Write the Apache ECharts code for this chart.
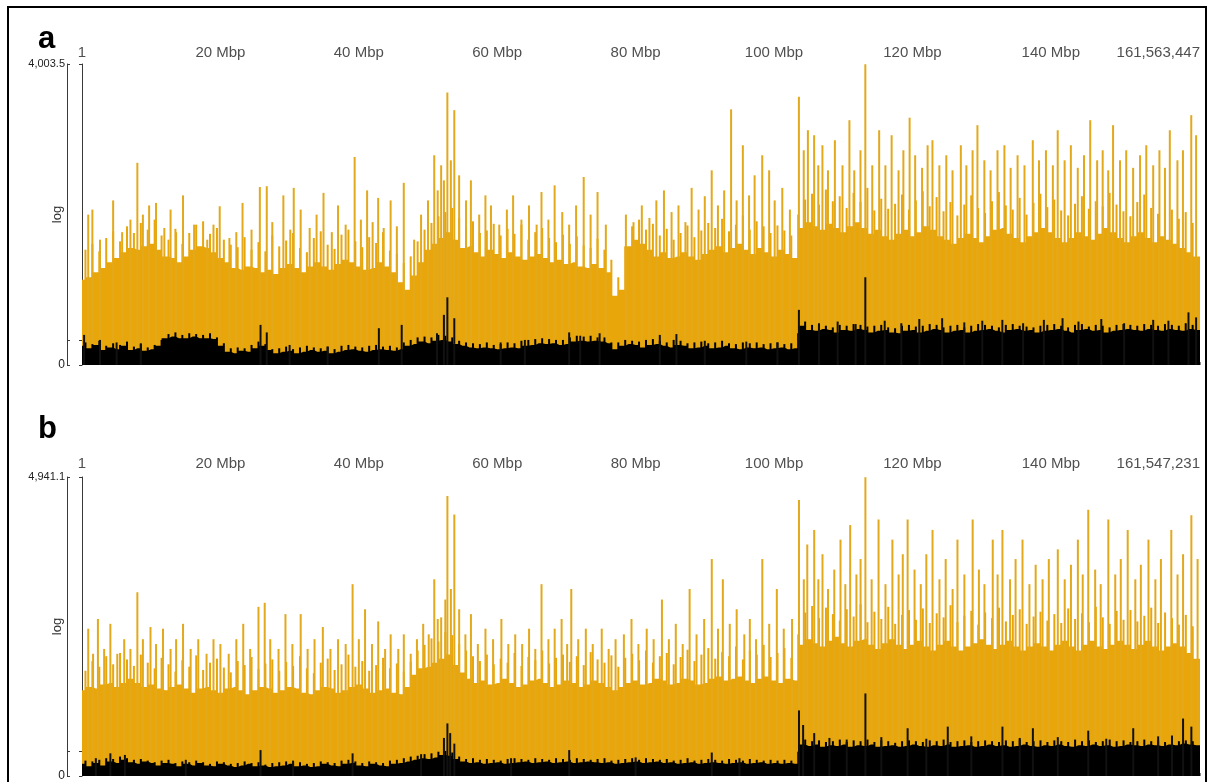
<!DOCTYPE html>
<html>
<head>
<meta charset="utf-8">
<script src="https://cdn.jsdelivr.net/npm/echarts@6/dist/echarts.min.js"></script>
<style>
html,body{margin:0;padding:0;background:#fff}
#chart{width:1210px;height:782px}
</style>
</head>
<body>
<div id="chart"></div>
<script>
// Chromosome lengths (bp) and the top of each depth scale
const chromLenA = 161563447;
const chromLenB = 161547231;
const maxDepthA = 4003.5;
const maxDepthB = 4941.1;
const depthMarkLog = Math.log10(2);   // tick at depth 1 on a log10(depth+1) scale
const xTickMbp = [0, 20, 40, 60, 80, 100, 120, 140];

// Coverage in log10(depth+1), one value per 1 Mbp bin (bins 0..161)
const aOrangeBody = [1.02,1.05,1.11,1.16,1.23,1.28,1.35,1.40,1.38,1.42,
  1.45,1.38,1.30,1.28,1.23,1.30,1.38,1.42,1.40,1.35,
  1.28,1.23,1.16,1.14,1.18,1.16,1.11,1.14,1.09,1.16,
  1.21,1.16,1.11,1.18,1.23,1.18,1.14,1.21,1.26,1.23,
  1.18,1.14,1.16,1.23,1.18,1.11,0.99,0.90,1.07,1.23,
  1.38,1.45,1.52,1.59,1.50,1.40,1.42,1.35,1.30,1.38,
  1.33,1.28,1.35,1.30,1.26,1.30,1.33,1.28,1.23,1.26,
  1.21,1.23,1.18,1.16,1.21,1.16,1.11,0.83,0.90,1.42,
  1.50,1.45,1.38,1.30,1.35,1.28,1.30,1.35,1.30,1.26,
  1.33,1.38,1.42,1.35,1.40,1.45,1.38,1.33,1.40,1.35,
  1.30,1.38,1.33,1.28,1.64,1.71,1.66,1.62,1.69,1.64,
  1.59,1.66,1.71,1.64,1.57,1.62,1.54,1.50,1.57,1.62,
  1.54,1.59,1.66,1.62,1.54,1.50,1.45,1.52,1.57,1.52,
  1.47,1.54,1.62,1.64,1.57,1.52,1.47,1.54,1.59,1.64,
  1.59,1.52,1.47,1.52,1.59,1.54,1.50,1.57,1.64,1.59,
  1.52,1.47,1.54,1.59,1.52,1.47,1.54,1.50,1.45,1.40,
  1.35,1.30];

const aBlackBody = [0.23,0.20,0.24,0.18,0.21,0.19,0.23,0.18,0.20,0.17,
  0.19,0.23,0.32,0.34,0.32,0.32,0.34,0.32,0.32,0.31,
  0.23,0.16,0.14,0.17,0.16,0.20,0.23,0.18,0.14,0.16,
  0.17,0.14,0.16,0.18,0.16,0.17,0.14,0.16,0.18,0.19,
  0.17,0.16,0.18,0.19,0.18,0.17,0.19,0.23,0.25,0.28,
  0.26,0.29,0.30,0.28,0.25,0.23,0.21,0.20,0.21,0.20,
  0.19,0.20,0.21,0.20,0.23,0.24,0.26,0.25,0.26,0.24,
  0.25,0.28,0.29,0.28,0.29,0.28,0.26,0.19,0.23,0.25,
  0.24,0.21,0.24,0.25,0.23,0.21,0.24,0.23,0.20,0.21,
  0.23,0.20,0.21,0.23,0.20,0.19,0.21,0.20,0.21,0.19,
  0.20,0.21,0.19,0.20,0.47,0.42,0.41,0.43,0.42,0.39,
  0.42,0.41,0.43,0.42,0.39,0.41,0.42,0.39,0.38,0.41,
  0.42,0.39,0.41,0.43,0.42,0.39,0.41,0.42,0.39,0.41,
  0.42,0.43,0.41,0.39,0.42,0.43,0.41,0.42,0.39,0.41,
  0.42,0.43,0.41,0.39,0.42,0.43,0.41,0.42,0.39,0.41,
  0.42,0.43,0.42,0.41,0.43,0.42,0.41,0.43,0.42,0.41,
  0.43,0.42];

const bOrangeBody = [1.06,1.10,1.08,1.13,1.15,1.10,1.15,1.20,1.15,1.10,
  1.13,1.08,1.06,1.10,1.13,1.08,1.03,1.08,1.10,1.06,
  1.03,1.08,1.10,1.06,1.01,1.06,1.10,1.08,1.03,1.06,
  1.10,1.08,1.03,1.01,1.06,1.10,1.08,1.03,1.06,1.10,
  1.13,1.08,1.03,1.06,1.08,1.03,1.01,1.10,1.25,1.33,
  1.35,1.40,1.45,1.50,1.37,1.28,1.20,1.15,1.18,1.13,
  1.15,1.20,1.15,1.10,1.13,1.18,1.20,1.15,1.10,1.13,
  1.18,1.15,1.10,1.13,1.18,1.15,1.10,1.06,1.10,1.15,
  1.18,1.13,1.15,1.20,1.18,1.13,1.15,1.20,1.18,1.13,
  1.15,1.20,1.23,1.18,1.20,1.23,1.18,1.15,1.20,1.23,
  1.18,1.15,1.20,1.18,1.62,1.69,1.64,1.60,1.67,1.72,
  1.64,1.60,1.67,1.69,1.62,1.57,1.64,1.69,1.62,1.57,
  1.62,1.67,1.60,1.55,1.62,1.67,1.60,1.55,1.60,1.64,
  1.69,1.62,1.57,1.62,1.67,1.60,1.55,1.60,1.64,1.60,
  1.55,1.62,1.67,1.60,1.55,1.62,1.67,1.60,1.57,1.62,
  1.67,1.62,1.57,1.62,1.67,1.60,1.55,1.60,1.64,1.60,
  1.52,1.45];

const bBlackBody = [0.15,0.12,0.16,0.13,0.18,0.16,0.20,0.17,0.15,0.18,
  0.16,0.13,0.16,0.15,0.12,0.15,0.13,0.16,0.13,0.12,
  0.15,0.13,0.11,0.13,0.15,0.12,0.13,0.11,0.12,0.13,
  0.15,0.12,0.13,0.11,0.12,0.15,0.13,0.12,0.15,0.16,
  0.13,0.12,0.15,0.13,0.12,0.15,0.16,0.18,0.20,0.22,
  0.21,0.23,0.26,0.25,0.21,0.18,0.16,0.17,0.15,0.16,
  0.17,0.15,0.16,0.17,0.18,0.16,0.17,0.18,0.16,0.17,
  0.18,0.16,0.17,0.18,0.17,0.16,0.17,0.15,0.16,0.17,
  0.18,0.16,0.17,0.18,0.16,0.17,0.15,0.16,0.17,0.15,
  0.16,0.17,0.16,0.15,0.16,0.17,0.15,0.16,0.17,0.15,
  0.16,0.15,0.16,0.15,0.39,0.37,0.39,0.36,0.38,0.37,
  0.39,0.36,0.38,0.37,0.39,0.36,0.37,0.38,0.36,0.37,
  0.39,0.37,0.36,0.38,0.37,0.39,0.36,0.37,0.38,0.36,
  0.37,0.39,0.37,0.38,0.36,0.37,0.39,0.37,0.36,0.38,
  0.37,0.39,0.37,0.36,0.38,0.37,0.39,0.37,0.38,0.36,
  0.37,0.39,0.38,0.37,0.39,0.38,0.37,0.39,0.38,0.40,
  0.39,0.38];

// Ragged top of each track: values at the half-Mbp points 0.5 .. 160.5
const aOrangeFringe = [1.38,1.45,1.36,1.52,1.60,1.48,1.66,1.58,1.70,1.62,
  1.74,1.55,1.50,1.63,1.45,1.58,1.68,1.72,1.57,1.64,
  1.50,1.44,1.41,1.53,1.38,1.47,1.36,1.55,1.42,1.49,
  1.58,1.40,1.35,1.52,1.60,1.44,1.39,1.56,1.62,1.48,
  1.41,1.53,1.46,1.59,1.37,1.33,1.22,1.30,1.48,1.62,
  1.70,1.78,1.83,1.88,1.76,1.65,1.72,1.58,1.61,1.69,
  1.55,1.63,1.57,1.68,1.50,1.59,1.64,1.52,1.47,1.56,
  1.45,1.54,1.43,1.40,1.51,1.38,1.26,1.05,1.42,1.66,
  1.74,1.62,1.69,1.55,1.63,1.50,1.58,1.67,1.53,1.61,
  1.70,1.64,1.75,1.60,1.68,1.79,1.62,1.72,1.66,1.58,
  1.67,1.61,1.55,1.80,1.98,2.05,1.92,2.10,1.96,2.02,
  1.88,2.06,1.95,2.12,1.85,1.99,1.87,1.93,2.04,1.86,
  1.97,2.08,1.90,2.01,1.84,1.95,1.79,1.92,2.03,1.88,
  1.82,1.96,2.07,1.91,1.86,2.00,1.80,1.94,2.05,1.89,
  1.98,1.85,1.79,1.93,2.02,1.87,1.96,1.90,2.06,1.92,
  1.84,1.78,1.95,2.04,1.88,1.81,1.97,1.86,1.75,1.83,
  1.70];

const bOrangeFringe = [1.30,1.42,1.35,1.48,1.38,1.52,1.44,1.36,1.50,1.40,
  1.33,1.46,1.38,1.29,1.43,1.35,1.49,1.31,1.40,1.45,
  1.34,1.28,1.42,1.37,1.47,1.32,1.39,1.44,1.30,1.41,
  1.36,1.48,1.33,1.27,1.40,1.45,1.31,1.38,1.50,1.35,
  1.42,1.30,1.37,1.46,1.33,1.39,1.29,1.41,1.55,1.62,
  1.70,1.66,1.78,1.74,1.63,1.55,1.48,1.42,1.50,1.38,
  1.45,1.40,1.52,1.36,1.47,1.43,1.55,1.39,1.46,1.50,
  1.41,1.48,1.37,1.53,1.44,1.40,1.49,1.35,1.46,1.51,
  1.43,1.55,1.40,1.48,1.52,1.38,1.47,1.56,1.42,1.50,
  1.58,1.45,1.53,1.48,1.60,1.44,1.55,1.50,1.62,1.47,
  1.52,1.58,1.46,1.75,2.02,2.10,1.95,2.08,2.00,1.92,
  2.06,1.97,2.12,1.90,2.03,1.94,2.09,1.88,1.99,2.05,
  1.93,2.07,1.89,2.01,1.96,2.11,1.90,1.98,2.04,1.87,
  2.02,1.95,2.08,1.91,1.99,2.06,1.88,1.97,2.03,1.92,
  2.00,1.89,2.07,1.94,2.01,1.90,2.09,1.96,1.88,2.04,
  1.93,2.05,1.91,1.98,2.08,1.89,2.02,1.95,1.87,1.99,
  1.85];

const aBlackFringe = [0.27,0.25,0.29,0.23,0.26,0.24,0.28,0.22,0.25,0.21,
  0.24,0.30,0.37,0.39,0.36,0.38,0.37,0.36,0.38,0.33,
  0.26,0.20,0.21,0.20,0.24,0.28,0.25,0.19,0.20,0.22,
  0.19,0.21,0.23,0.21,0.20,0.22,0.19,0.23,0.24,0.22,
  0.21,0.23,0.24,0.22,0.23,0.21,0.27,0.30,0.33,0.34,
  0.33,0.36,0.35,0.33,0.29,0.27,0.26,0.25,0.27,0.24,
  0.25,0.27,0.26,0.29,0.30,0.31,0.32,0.31,0.30,0.30,
  0.33,0.35,0.34,0.35,0.33,0.33,0.27,0.27,0.30,0.29,
  0.28,0.30,0.31,0.29,0.27,0.30,0.29,0.26,0.27,0.28,
  0.26,0.27,0.29,0.26,0.25,0.27,0.26,0.27,0.25,0.26,
  0.27,0.25,0.26,0.38,0.52,0.48,0.49,0.47,0.45,0.48,
  0.47,0.49,0.48,0.46,0.47,0.48,0.45,0.44,0.47,0.48,
  0.46,0.47,0.49,0.48,0.45,0.47,0.48,0.45,0.47,0.49,
  0.48,0.47,0.45,0.48,0.49,0.47,0.46,0.45,0.47,0.48,
  0.49,0.47,0.45,0.48,0.49,0.46,0.48,0.47,0.45,0.48,
  0.49,0.48,0.47,0.49,0.48,0.47,0.49,0.48,0.47,0.50,
  0.48];

const bBlackFringe = [0.19,0.18,0.20,0.22,0.21,0.24,0.22,0.20,0.21,0.19,
  0.17,0.19,0.20,0.16,0.18,0.17,0.19,0.17,0.15,0.18,
  0.17,0.15,0.16,0.18,0.16,0.17,0.14,0.16,0.17,0.18,
  0.16,0.17,0.15,0.16,0.18,0.17,0.16,0.19,0.20,0.18,
  0.16,0.18,0.17,0.16,0.19,0.20,0.22,0.24,0.25,0.27,
  0.28,0.30,0.31,0.29,0.24,0.21,0.22,0.20,0.21,0.20,
  0.19,0.21,0.22,0.21,0.20,0.22,0.21,0.20,0.22,0.21,
  0.20,0.22,0.21,0.20,0.21,0.22,0.19,0.20,0.21,0.22,
  0.20,0.22,0.21,0.20,0.21,0.19,0.20,0.22,0.19,0.20,
  0.21,0.20,0.19,0.21,0.20,0.19,0.21,0.20,0.19,0.20,
  0.19,0.20,0.19,0.30,0.45,0.43,0.44,0.42,0.43,0.45,
  0.42,0.44,0.43,0.45,0.42,0.44,0.43,0.41,0.43,0.44,
  0.43,0.42,0.44,0.43,0.45,0.42,0.43,0.44,0.42,0.43,
  0.44,0.43,0.42,0.44,0.43,0.45,0.42,0.43,0.44,0.42,
  0.44,0.43,0.42,0.45,0.43,0.44,0.42,0.43,0.45,0.43,
  0.44,0.42,0.43,0.45,0.43,0.44,0.42,0.45,0.43,0.44,
  0.43];

// Narrow high-coverage positions: [position in Mbp, log10(depth+1)]
const aOrangePeaks = [[0.9,1.80],[1.5,1.86],[2.6,1.50],[4.5,1.97],[5.8,1.59],[7.0,1.74],[8.0,2.42],[8.8,1.80],[9.7,1.91],[10.7,1.94],
  [11.9,1.64],[12.8,1.86],[13.6,1.59],[14.6,2.03],[16.2,1.68],[18.1,1.50],[19.0,1.68],[19.9,1.90],[21.3,1.52],[22.3,1.59],
  [23.2,1.94],[24.5,1.62],[25.7,2.13],[26.7,2.14],[27.5,1.71],[29.1,2.03],[30.1,1.62],[30.6,2.12],[31.6,1.86],[32.9,1.64],
  [33.9,1.80],[34.9,2.06],[36.1,1.59],[37.0,1.91],[38.1,1.68],[39.4,2.49],[40.3,1.74],[41.2,2.09],[42.0,1.71],[42.8,2.00],
  [43.6,1.64],[44.6,1.97],[45.5,1.66],[46.5,2.18],[48.0,1.50],[49.0,1.80],[50.0,1.97],[50.9,2.51],[51.4,2.09],[51.9,2.39],
  [52.3,2.21],[52.8,3.26],[53.3,2.45],[53.8,3.05],[54.5,2.27],[55.5,1.97],[56.2,2.21],[57.4,1.80],[58.3,2.03],[59.1,1.91],
  [60.3,1.68],[61.4,1.86],[62.3,2.03],[63.5,1.74],[64.6,1.91],[65.7,1.68],[66.4,2.07],[67.4,1.74],[68.3,2.15],[69.4,1.83],
  [70.4,1.68],[71.4,1.91],[72.5,2.25],[73.5,1.80],[74.5,2.07],[75.7,1.68],[78.6,1.80],[79.7,1.71],[80.9,1.91],[82.0,1.76],
  [83.0,1.97],[84.1,2.09],[85.2,1.83],[86.2,1.91],[87.2,1.71],[88.1,2.12],[89.1,1.86],[90.0,2.02],[91.0,2.33],[91.9,1.91],
  [92.8,2.09],[93.8,3.06],[94.6,1.97],[95.5,2.63],[96.4,2.03],[97.2,2.27],[98.3,2.51],[99.3,2.33],[100.1,1.97],[101.2,2.12],
  [102.3,1.86],[103.6,3.21],[104.3,2.57],[104.9,2.81],[105.8,2.75],[106.4,2.39],[107.0,2.63],[107.8,2.33],[108.8,2.69],[109.9,2.39],
  [110.9,2.93],[111.6,2.33],[112.5,2.57],[113.2,3.60],[114.2,2.39],[115.2,2.81],[116.1,2.39],[117.0,2.75],[118.0,2.33],[118.7,2.57],
  [119.6,2.96],[120.4,2.51],[121.4,2.36],[122.2,2.63],[122.9,2.69],[123.9,2.39],[124.9,2.51],[125.8,2.33],[127.0,2.63],[127.8,2.39],
  [128.7,2.57],[129.4,2.87],[130.4,2.45],[131.3,2.33],[132.3,2.57],[133.3,2.63],[134.2,2.36],[135.2,2.51],[136.2,2.39],[137.4,2.69],
  [138.3,2.45],[139.3,2.57],[140.3,2.39],[141.0,2.81],[142.0,2.45],[142.9,2.63],[143.9,2.36],[144.8,2.51],[145.7,2.93],[146.7,2.45],
  [147.5,2.57],[148.3,2.33],[149.0,2.87],[150.0,2.45],[150.9,2.57],[151.9,2.36],[152.9,2.51],[153.8,2.63],[154.8,2.39],[155.7,2.57],
  [156.5,2.36],[157.2,2.81],[158.3,2.45],[159.1,2.57],[160.3,2.99],[161.0,2.75]];

const aBlackPeaks = [[0.3,0.36],[2.6,0.30],[5.0,0.27],[8.5,0.26],[25.8,0.48],[26.7,0.39],[30.0,0.24],[35.5,0.22],
  [42.9,0.44],[46.2,0.48],[51.3,0.38],[52.3,0.60],[52.8,0.81],[53.8,0.56],[60.5,0.27],[64.0,0.30],
  [70.4,0.39],[72.0,0.35],[74.8,0.38],[83.5,0.36],[85.9,0.37],[90.0,0.29],[96.0,0.28],[100.5,0.27],
  [103.6,0.66],[106.5,0.50],[109.2,0.52],[111.8,0.49],[113.2,1.05],[116.0,0.53],[118.4,0.50],[121.0,0.55],
  [124.3,0.56],[127.5,0.51],[130.1,0.53],[133.0,0.54],[136.0,0.50],[139.0,0.54],[141.7,0.56],[144.0,0.52],
  [147.3,0.55],[150.6,0.50],[154.8,0.54],[157.0,0.53],[159.9,0.63],[161.0,0.57]];

const bOrangePeaks = [[0.9,1.82],[1.6,1.51],[2.3,1.94],[3.2,1.57],[4.1,1.88],[5.1,1.51],[6.1,1.69],[7.0,1.57],[8.0,2.27],[8.8,1.69],
  [9.9,1.84],[10.7,1.63],[11.7,1.82],[12.8,1.57],[13.6,1.69],[14.6,1.88],[15.7,1.57],[16.8,1.69],[18.0,1.51],[19.0,1.69],
  [20.0,1.63],[21.2,1.51],[22.3,1.69],[23.3,1.88],[24.3,1.57],[25.5,2.09],[26.4,2.14],[27.2,1.69],[28.4,1.57],[29.4,2.00],
  [30.4,1.63],[31.6,2.00],[32.6,1.57],[33.6,1.69],[34.8,1.84],[35.9,1.57],[37.0,1.69],[38.1,1.63],[39.1,2.37],[40.0,1.69],
  [40.9,2.06],[41.9,1.63],[42.8,1.91],[43.8,1.57],[44.6,1.75],[45.7,1.57],[46.5,1.75],[47.5,1.51],[48.4,1.69],[49.3,1.88],
  [50.1,1.75],[50.9,2.43],[51.4,1.94],[51.9,1.96],[52.5,2.18],[52.8,3.46],[53.3,2.31],[53.8,3.23],[54.5,2.06],[55.4,1.75],
  [56.2,2.00],[57.2,1.63],[58.3,1.82],[59.4,1.69],[60.6,1.94],[61.6,1.63],[62.6,1.75],[63.6,1.63],[64.6,1.82],[65.5,1.57],
  [66.4,2.37],[67.4,1.69],[68.3,1.82],[69.3,1.94],[70.1,1.63],[70.7,2.31],[71.7,1.69],[72.8,1.82],[73.8,1.63],[75.1,1.82],
  [76.1,1.57],[77.1,1.69],[78.3,1.75],[79.4,1.94],[80.4,1.63],[81.6,1.82],[82.6,1.69],[83.8,2.18],[84.8,1.69],[85.8,1.88],
  [86.8,1.63],[87.8,2.31],[88.8,1.75],[89.9,1.94],[91.0,2.68],[91.9,1.82],[92.6,2.43],[93.6,1.88],[94.6,2.06],[95.7,1.75],
  [96.5,1.94],[97.4,1.69],[98.3,2.68],[99.3,1.88],[100.4,2.31],[101.4,1.82],[102.6,1.94],[103.6,3.41],[104.3,2.43],[104.8,2.86],
  [105.8,3.04],[106.4,2.43],[107.0,2.74],[107.8,2.31],[108.7,2.55],[109.6,2.92],[110.3,2.37],[111.0,3.10],[111.9,2.49],[112.5,2.68],
  [113.2,3.69],[114.1,2.43],[115.1,3.17],[116.1,2.37],[117.1,2.92],[118.0,2.49],[118.6,2.74],[119.3,3.17],[120.3,2.55],[121.2,2.37],
  [122.0,2.74],[122.9,3.04],[123.9,2.43],[124.8,2.68],[125.8,2.31],[126.5,2.92],[127.5,2.49],[128.7,3.17],[129.6,2.55],[130.4,2.37],
  [131.6,2.92],[132.3,2.49],[133.0,3.04],[134.1,2.43],[134.9,2.68],[135.9,2.92],[136.9,2.37],[137.8,2.61],[138.8,2.43],[139.7,2.68],
  [141.0,2.80],[142.0,2.43],[142.9,2.61],[143.9,2.92],[144.6,2.49],[145.4,3.29],[146.4,2.55],[147.2,2.37],[148.3,3.17],[149.3,2.49],
  [150.1,2.68],[151.1,3.04],[152.2,2.43],[153.0,2.61],[154.1,2.92],[155.1,2.43],[155.9,2.68],[157.4,3.04],[158.3,2.49],[159.1,2.74],
  [160.3,3.22],[161.2,2.68]];

const bBlackPeaks = [[2.0,0.22],[4.1,0.28],[6.2,0.26],[15.0,0.20],[25.8,0.32],[30.5,0.19],[39.1,0.28],[49.0,0.27],
  [52.3,0.47],[52.8,0.65],[53.2,0.53],[53.8,0.40],[62.0,0.22],[70.4,0.32],[80.0,0.23],[91.0,0.29],[95.0,0.22],
  [103.6,0.81],[104.2,0.63],[105.8,0.53],[108.0,0.47],[110.5,0.45],[113.2,1.02],[115.5,0.48],[119.3,0.59],
  [122.0,0.46],[125.1,0.61],[128.5,0.49],[133.0,0.61],[135.5,0.47],[137.4,0.59],[141.0,0.48],[145.4,0.56],
  [148.0,0.46],[151.9,0.59],[155.5,0.49],[157.5,0.50],[159.1,0.71],[160.3,0.61]];

// ---- styling ----
const ORANGE = '#e9a60b';
const ORANGE_PEAK = '#e3a91d';
const BLACK = '#000000';
const FONT = 'Liberation Sans, Arial, sans-serif';

function binsToSeriesData(bins, lenMbp) {
  const out = bins.map((v, i) => [i, v]);
  out.push([lenMbp, bins[bins.length - 1]]);
  return out;
}
function halfPoints(vals) {
  return vals.map((v, i) => [i + 0.5, v]);
}
function fmtBp(n) {
  return String(n).replace(/\B(?=(\d{3})+(?!\d))/g, ',');
}

const panels = [
  { len: chromLenA, maxDepth: maxDepthA, top: 64, labelMargin: 4,
    orange: aOrangeBody, orangeFringe: aOrangeFringe, orangePeaks: aOrangePeaks,
    black: aBlackBody, blackFringe: aBlackFringe, blackPeaks: aBlackPeaks },
  { len: chromLenB, maxDepth: maxDepthB, top: 477, labelMargin: 6,
    orange: bOrangeBody, orangeFringe: bOrangeFringe, orangePeaks: bOrangePeaks,
    black: bBlackBody, blackFringe: bBlackFringe, blackPeaks: bBlackPeaks }
];

const grid = [], xAxis = [], yAxis = [], series = [];

function thinBars(i, yIdx, data, color, z) {
  return { type: 'bar', xAxisIndex: i, yAxisIndex: yIdx, barWidth: 2, barGap: '-100%', z: z,
    itemStyle: { color: color }, data: data, silent: true };
}

panels.forEach((p, i) => {
  const lenMbp = p.len / 1e6;
  const yMax = Math.log10(p.maxDepth + 1);
  const xVals = xTickMbp.concat([lenMbp]);
  grid.push({ left: 82, top: p.top, width: 1118, height: 301, containLabel: false });

  xAxis.push({
    gridIndex: i, type: 'value', position: 'top', min: 0, max: lenMbp,
    axisLine: { show: false }, splitLine: { show: false },
    axisTick: { show: true, customValues: xVals, length: 3, lineStyle: { color: '#888', width: 1 } },
    axisLabel: {
      customValues: xVals, margin: p.labelMargin, color: '#505050', fontSize: 15, fontFamily: FONT,
      alignMinLabel: 'center', alignMaxLabel: 'right',
      formatter: v => v === 0 ? '1' : (Math.abs(v - lenMbp) < 1e-6 ? fmtBp(p.len) : v + ' Mbp')
    }
  });

  const depthLabel = p.maxDepth.toLocaleString('en-US', { minimumFractionDigits: 1 });
  const yCommon = {
    gridIndex: i, type: 'value', min: 0, max: yMax, position: 'left', offset: 15,
    splitLine: { show: false },
    axisLine: { show: true, lineStyle: { color: '#3a3a3a', width: 1 } }
  };
  yAxis.push(Object.assign({}, yCommon, {
    axisTick: { show: true, customValues: [0, depthMarkLog, yMax], length: 3, lineStyle: { color: '#3a3a3a' } },
    axisLabel: {
      customValues: [0, yMax], margin: 2, color: '#222', fontFamily: FONT,
      formatter: v => v === 0 ? '{z|0}' : '{t|' + depthLabel + '}',
      rich: { z: { fontSize: 12, fontFamily: FONT, color: '#222' }, t: { fontSize: 11, fontFamily: FONT, color: '#222' } }
    },
    name: 'log', nameLocation: 'middle', nameRotate: 90, nameGap: 3, nameMoveOverlap: false,
    nameTextStyle: { fontSize: 13, color: '#333', fontFamily: FONT }
  }));
  yAxis.push(Object.assign({}, yCommon, {
    axisTick: { show: true, inside: true, customValues: [0, depthMarkLog, yMax], length: 3, lineStyle: { color: '#3a3a3a' } },
    axisLabel: { show: false }
  }));

  const yIdx = i * 2;
  series.push({
    type: 'line', xAxisIndex: i, yAxisIndex: yIdx, step: 'middle', symbol: 'none', z: 1,
    lineStyle: { width: 0 }, areaStyle: { color: ORANGE, opacity: 1 },
    data: binsToSeriesData(p.orange, lenMbp), silent: true
  });
  series.push(thinBars(i, yIdx, halfPoints(p.orangeFringe), ORANGE, 2));
  series.push(thinBars(i, yIdx, p.orangePeaks, ORANGE_PEAK, 2));
  series.push({
    type: 'line', xAxisIndex: i, yAxisIndex: yIdx, step: 'middle', symbol: 'none', z: 3,
    lineStyle: { width: 0 }, areaStyle: { color: BLACK, opacity: 1 },
    data: binsToSeriesData(p.black, lenMbp), silent: true
  });
  series.push(thinBars(i, yIdx, halfPoints(p.blackFringe), BLACK, 4));
  series.push(thinBars(i, yIdx, p.blackPeaks, '#111', 4));
});

const chart = echarts.init(document.getElementById('chart'), null, { renderer: 'canvas' });
chart.setOption({
  animation: false,
  backgroundColor: '#ffffff',
  grid, xAxis, yAxis, series,
  graphic: [
    { type: 'rect', shape: { x: 8, y: 7, width: 1198, height: 800 },
      style: { fill: 'none', stroke: '#000', lineWidth: 2 }, z: 100, silent: true },
    { type: 'text', left: 38, top: 24, style: { text: 'a', font: 'bold 31px ' + FONT, fill: '#000' }, z: 100 },
    { type: 'text', left: 38, top: 414, style: { text: 'b', font: 'bold 31px ' + FONT, fill: '#000' }, z: 100 }
  ]
});
</script>
</body>
</html>
